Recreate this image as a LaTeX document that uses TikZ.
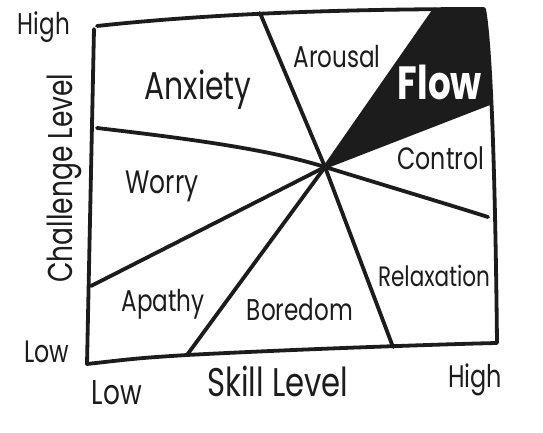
\documentclass[tikz,border=0pt]{standalone}
\usepackage{fontspec}
\setmainfont{Poppins}
\usepackage{graphicx}
\definecolor{inkc}{RGB}{28,28,28}
\newcommand{\fitlabel}[2]{\scalebox{1}[1.3]{\resizebox{#1pt}{!}{#2}}}
\begin{document}
\begin{tikzpicture}[x=1pt,y=-1pt,line width=3.8pt,line cap=round,line join=round,
  ink/.style={draw=inkc},
  lab/.style={inner sep=0pt,text=inkc}]
\useasboundingbox (0,0) rectangle (543,433);
\fill[white] (0,0) rectangle (543,433);
\coordinate (C) at (325,167);
\coordinate (FT) at (435,9);
\coordinate (TR) at (484,9);
\coordinate (FB) at (490,103);
\coordinate (BR) at (497,343);
\coordinate (TL) at (97,26);
\coordinate (LT) at (94,29);
\coordinate (BL) at (87,364);
% flow region
\fill[inkc] (C) -- (FT) -- (TR) .. controls (488,30) .. (FB) -- cycle;
\draw[ink] (C) -- (FT);
\draw[ink] (C) -- (FB);
% frame
\draw[ink] (TL) .. controls (180,17) and (300,9) .. (TR)
  .. controls (490,40) and (495,150) .. (BR)
  .. controls (450,344) and (300,349) .. (187,355)
  .. controls (140,358) .. (BL) -- (LT);
% dividers
\coordinate (AT) at (260,13);
\coordinate (RB) at (393,347);
\coordinate (WA) at (91,286);
\coordinate (AB) at (187,355);
\coordinate (AW) at (97,128);
\coordinate (CR) at (488,217);
\draw[ink] (C) -- (AT);
\draw[ink] (C) -- (RB);
\draw[ink] (C) -- (WA);
\draw[ink] (C) -- (AB);
\draw[ink] (AW) .. controls (200,140) and (270,150) .. (C);
\draw[ink] (C) .. controls (400,190) and (450,205) .. (CR);
% region labels
\node[lab] (anx) at (198,90) {\fitlabel{107}{Anxiety}};
\node[lab] (aro) at (337,57) {\fitlabel{87}{Arousal}};
\node[lab,text=white] (flow) at (440,82) {\fitlabel{84}{\bfseries Flow}};
\node[lab] (ctl) at (441,158) {\fitlabel{87}{Control}};
\node[lab] (wor) at (162,186) {\fitlabel{73}{Worry}};
\node[lab] (apa) at (163,304) {\fitlabel{83}{Apathy}};
\node[lab] (bor) at (300,310) {\fitlabel{106}{Boredom}};
\node[lab] (rel) at (434,276) {\fitlabel{112}{Relaxation}};
% axis labels
\node[lab] (hy) at (44,27) {\fitlabel{52}{High}};
\node[lab] (ly) at (47,352) {\fitlabel{45}{Low}};
\node[lab] (lx) at (117,393) {\fitlabel{50}{Low}};
\node[lab] (sk) at (278,381) {\fitlabel{141}{Skill Level}};
\node[lab] (hx) at (475,380) {\fitlabel{54}{High}};
\node[lab,rotate=90] (ch) at (64,178) {\fitlabel{209}{Challenge Level}};
\end{tikzpicture}
\end{document}
